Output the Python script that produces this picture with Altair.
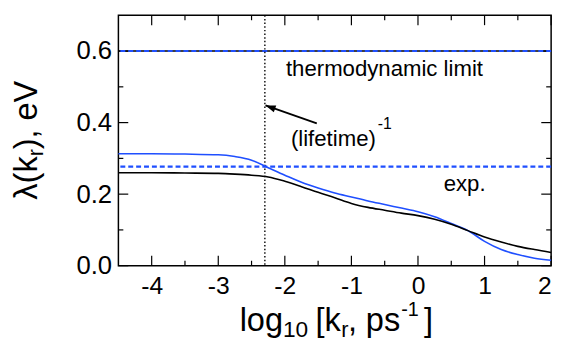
import altair as alt
import pandas as pd

# ---- data ----
log_kr = [-4.5, -4.0, -3.5, -3.0, -2.75, -2.5, -2.25, -2.0, -1.75, -1.5, -1.25, -1.0,
          -0.75, -0.5, -0.25, 0.0, 0.25, 0.5, 0.75, 1.0, 1.25, 1.5, 1.75, 2.0]
lambda_blue = [0.313, 0.313, 0.312, 0.310, 0.305, 0.295, 0.274, 0.253, 0.233, 0.217, 0.203, 0.192,
               0.181, 0.171, 0.161, 0.151, 0.137, 0.118, 0.098, 0.068, 0.045, 0.031, 0.021, 0.015]
lambda_black = [0.260, 0.260, 0.259, 0.258, 0.256, 0.253, 0.248, 0.236, 0.221, 0.205, 0.190, 0.174,
                0.163, 0.155, 0.147, 0.140, 0.130, 0.116, 0.098, 0.080, 0.066, 0.054, 0.045, 0.037]
x_major = [-4, -3, -2, -1, 0, 1, 2]
x_minor = [-3.5, -2.5, -1.5, -0.5, 0.5, 1.5]
y_major = [0.0, 0.2, 0.4, 0.6]
y_minor = [0.1, 0.3, 0.5]
thermo_limit = [0.6]
exp_value = [0.277]
lifetime_x = [-2.3]
arrow_tip = {"x": -2.29, "y": 0.448}
arrow_tail = {"x": -1.52, "y": 0.398}

W, H = 439, 254
BLUE = "#1f4fff"
FONT = "Liberation Sans"

xs = alt.Scale(domain=[-4.5, 2], nice=False, zero=False)
ys = alt.Scale(domain=[0, 0.7], nice=False, zero=False)

X_AXIS = alt.Axis(values=x_major, labelExpr="'' + datum.value", labelFontSize=25, labelFont=FONT,
                  labelColor="black", ticks=False, domain=False, grid=False, title=None,
                  labelPadding=8)
Y_AXIS = alt.Axis(values=y_major, format=".1f", labelFontSize=26, labelFont=FONT,
                  labelColor="black", ticks=False, domain=False, grid=False, title=None,
                  labelPadding=7)

def X(field):
    return alt.X(field, type="quantitative", scale=xs, axis=X_AXIS)

def Y(field):
    return alt.Y(field, type="quantitative", scale=ys, axis=Y_AXIS)

curves = pd.DataFrame({"x": log_kr, "blue": lambda_blue, "black": lambda_black})

black_line = alt.Chart(curves).mark_line(color="black", strokeWidth=1.6, interpolate="monotone").encode(
    x=X("x"), y=Y("black"))
blue_line = alt.Chart(curves).mark_line(color=BLUE, strokeWidth=1.6, interpolate="monotone").encode(
    x=X("x"), y=Y("blue"))

def xticks(vals, length, top):
    d = pd.DataFrame({"x": vals})
    if top:
        yy, yy2 = alt.value(0), alt.value(length)
    else:
        yy, yy2 = alt.value(H), alt.value(H - length)
    return alt.Chart(d).mark_rule(color="black", strokeWidth=1.2).encode(x=X("x"), y=yy, y2=yy2)

def yticks(vals, length, right):
    d = pd.DataFrame({"y": vals})
    if right:
        xx, xx2 = alt.value(W), alt.value(W - length)
    else:
        xx, xx2 = alt.value(0), alt.value(length)
    return alt.Chart(d).mark_rule(color="black", strokeWidth=1.2).encode(y=Y("y"), x=xx, x2=xx2)

ticks = [xticks(x_major, 10, False), xticks(x_major, 10, True),
         xticks(x_minor, 5, False), xticks(x_minor, 5, True),
         yticks(y_major, 10, False), yticks(y_major, 10, True),
         yticks(y_minor, 5, False), yticks(y_minor, 5, True)]

thermo_black = alt.Chart(pd.DataFrame({"y": thermo_limit})).mark_rule(
    color="black", strokeWidth=1.6).encode(y=Y("y"))
thermo_blue = alt.Chart(pd.DataFrame({"y": thermo_limit})).mark_rule(
    color=BLUE, strokeWidth=2, strokeDash=[5, 3]).encode(y=Y("y"))
exp_line = alt.Chart(pd.DataFrame({"y": exp_value})).mark_rule(
    color=BLUE, strokeWidth=2.3, strokeDash=[5, 3]).encode(y=Y("y"))
life_line = alt.Chart(pd.DataFrame({"x": lifetime_x})).mark_rule(
    color="black", strokeWidth=1.4, strokeDash=[1.5, 2.2]).encode(x=X("x"))

arrow_df = pd.DataFrame({"x": [arrow_tail["x"]], "y": [arrow_tail["y"]],
                         "x2": [arrow_tip["x"]], "y2": [arrow_tip["y"]]})
arrow_shaft = alt.Chart(arrow_df).mark_rule(color="black", strokeWidth=1.8).encode(
    x=X("x"), y=Y("y"), x2="x2:Q", y2="y2:Q")
arrow_head = alt.Chart(arrow_df).mark_point(
    shape="M0,0L1,-0.35L1,0.35Z", filled=True, color="black", size=420, angle=20, opacity=1).encode(
    x=X("x2"), y=Y("y2"))

annotations = pd.DataFrame({
    "x": [-1.983, -1.909, 0.386],
    "y": [0.529, 0.336, 0.210],
    "label": ["thermodynamic limit", "(lifetime)", "exp."],
})
ann = alt.Chart(annotations).mark_text(align="left", baseline="alphabetic", font=FONT,
                                       fontSize=22.5, color="black").encode(
    x=X("x"), y=Y("y"), text="label:N")
sup = alt.Chart(pd.DataFrame({"x": [-0.606], "y": [0.383], "label": ["-1"]})).mark_text(
    align="left", baseline="alphabetic", font=FONT, fontSize=16, color="black").encode(
    x=X("x"), y=Y("y"), text="label:N")

def piece(txt, px, py, size, angle=0):
    kw = dict(text=txt, align="left", baseline="alphabetic", font=FONT, fontSize=size, color="black")
    if angle:
        kw["angle"] = angle
    return alt.Chart().mark_text(**kw).encode(x=alt.value(px), y=alt.value(py))

x_title = [
    piece("log", 123, 320, 33),
    piece("10", 167, 326, 23),
    piece("[k", 200, 320, 33),
    piece("r", 226, 326, 22),
    piece(",", 233, 320, 33),
    piece("ps", 251, 320, 33),
    piece("-1", 287, 305, 20),
    piece("]", 310, 320, 33),
]
y_title = [
    piece("λ(k", -83, 187, 33, 270),
    piece("r", -77, 143, 22, 270),
    piece("), eV", -83, 136, 33, 270),
]

chart = alt.layer(
    *ticks, thermo_black, thermo_blue, exp_line, life_line,
    blue_line, black_line, arrow_shaft, arrow_head, ann, sup, *x_title, *y_title
).properties(
    width=W, height=H,
    autosize=alt.AutoSizeParams(type="none"),
    padding={"left": 112, "top": 5, "right": 9, "bottom": 74},
).configure_view(stroke="black", strokeWidth=1.5).configure_axis(grid=False)

chart.save("out.html", embed_options={"renderer": "svg", "actions": False})
